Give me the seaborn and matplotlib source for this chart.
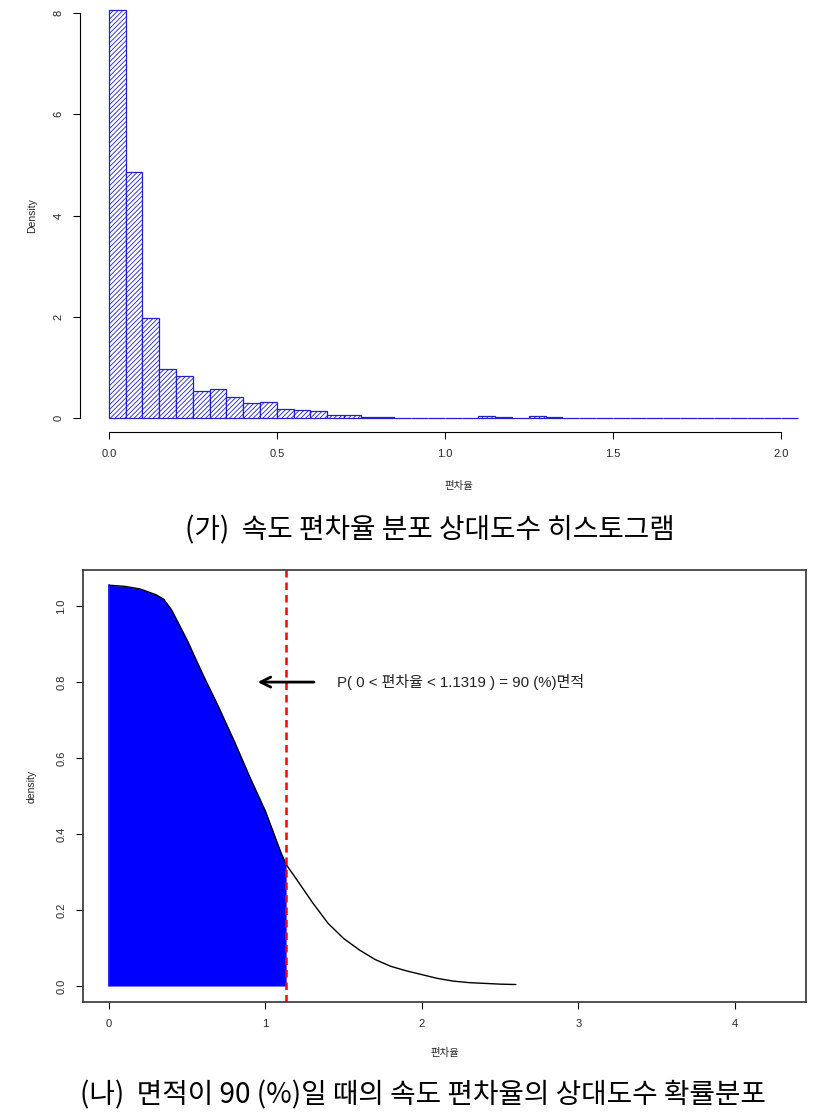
import numpy as np
import pandas as pd
import matplotlib
matplotlib.use("Agg")
import matplotlib.pyplot as plt
import seaborn as sns

# ---------------- data ----------------
# (가) histogram: bin left edges (width 0.05) and densities
bin_width = 0.05
hist_left = [0.00, 0.05, 0.10, 0.15, 0.20, 0.25, 0.30, 0.35, 0.40, 0.45,
             0.50, 0.55, 0.60, 0.65, 0.70, 0.75, 0.80, 0.85, 0.90, 0.95,
             1.00, 1.05, 1.10, 1.15, 1.20, 1.25, 1.30, 1.35, 1.40, 1.45,
             1.50, 1.55, 1.60, 1.65, 1.70, 1.75, 1.80, 1.85, 1.90, 1.95,
             2.00]
hist_density = [8.06, 4.86, 1.98, 0.97, 0.83, 0.53, 0.57, 0.42, 0.30, 0.32,
                0.18, 0.16, 0.14, 0.06, 0.06, 0.012, 0.010, 0.008, 0.008, 0.006,
                0.006, 0.006, 0.040, 0.012, 0.0, 0.040, 0.010, 0.008, 0.006, 0.0,
                0.0, 0.0, 0.006, 0.006, 0.006, 0.0, 0.006, 0.0, 0.006, 0.006,
                0.0]

# (나) density curve
curve_x = [0.0, 0.1, 0.2, 0.3, 0.35, 0.4, 0.5, 0.6, 0.7, 0.8, 0.9, 1.0,
           1.1, 1.1319, 1.2, 1.3, 1.4, 1.5, 1.6, 1.7, 1.8, 1.9, 2.0, 2.1,
           2.2, 2.3, 2.4, 2.5, 2.6]
curve_y = [1.055, 1.052, 1.045, 1.030, 1.018, 0.99, 0.91, 0.82, 0.735, 0.645,
           0.55, 0.46, 0.35, 0.32, 0.28, 0.22, 0.165, 0.125, 0.095, 0.07,
           0.052, 0.04, 0.03, 0.02, 0.013, 0.009, 0.007, 0.005, 0.004]
cutoff = 1.1319
annot_text = "P( 0 < 편차율 < 1.1319 ) = 90 (%)면적"
caption_a = "(가)  속도 편차율 분포 상대도수 히스토그램"
caption_b = "(나)  면적이 90 (%)일 때의 속도 편차율의 상대도수 확률분포"
xlabel = "편차율"

# ---------------- style ----------------
sns.set_theme(style="white")
plt.rcParams['font.family'] = ['Liberation Sans', 'Noto Sans CJK KR', 'DejaVu Sans']
plt.rcParams['hatch.linewidth'] = 0.6
plt.rcParams['axes.unicode_minus'] = False

W, H = 837, 1117
fig = plt.figure(figsize=(W / 100, H / 100), dpi=100)

def fx(px):
    return px / W

def fy(py):
    return 1 - py / H

tick_fs = 8
lab_fs = 7.5
cap_fs = 20

# ---------------- top: histogram ----------------
ax1 = fig.add_axes([fx(80), fy(432), fx(837) - fx(80), fy(0) - fy(432)])
centers = [l + bin_width / 2 for l in hist_left]
edges = hist_left + [hist_left[-1] + bin_width]
df_h = pd.DataFrame({"x": centers, "w": hist_density})
sns.histplot(data=df_h, x="x", weights="w", bins=edges, stat="count",
             ax=ax1, color="white", edgecolor="#1a1ad0", linewidth=0.9,
             alpha=1.0)
for p in ax1.patches:
    p.set_hatch("///////")
    p.set_edgecolor("#2020d0")
ax1.set_xlim(-0.086, 2.167)
ax1.set_ylim(-0.277, 8.26)
for s in ["top", "right"]:
    ax1.spines[s].set_visible(False)
for s in ["left", "bottom"]:
    ax1.spines[s].set_color("black")
    ax1.spines[s].set_linewidth(0.8)
ax1.spines["left"].set_bounds(0, 8)
ax1.spines["bottom"].set_bounds(0, 2)
ax1.set_xticks([0.0, 0.5, 1.0, 1.5, 2.0])
ax1.set_xticklabels(["0.0", "0.5", "1.0", "1.5", "2.0"])
ax1.set_yticks([0, 2, 4, 6, 8])
ax1.set_yticklabels(["0", "2", "4", "6", "8"], rotation=90, va="center")
ax1.tick_params(axis="both", which="both", direction="out", length=5,
                width=0.8, color="black", labelsize=tick_fs, pad=7,
                bottom=True, left=True)
ax1.set_xlabel(xlabel, fontsize=lab_fs, labelpad=16)
ax1.set_ylabel("Density", fontsize=lab_fs, labelpad=12)
ax1.grid(False)

fig.text(0.514, fy(530), caption_a, ha="center", va="center",
         fontsize=cap_fs, color="black",
         family=['Noto Sans CJK KR', 'DejaVu Sans'])

# ---------------- bottom: density ----------------
ax2 = fig.add_axes([fx(83), fy(1002), fx(806) - fx(83), fy(570) - fy(1002)])
cx = np.array(curve_x)
cy = np.array(curve_y)
mask = cx <= cutoff
ax2.fill_between(cx[mask], 0, cy[mask], color="#0000ff", linewidth=0)
sns.lineplot(x=curve_x, y=curve_y, ax=ax2, color="black", linewidth=1.0)
ax2.plot([0, 0], [0, curve_y[0]], color="#0000ff", linewidth=1.2)
ax2.axvline(cutoff, color="#ff0000", linestyle=(0, (3, 2)), linewidth=1.8)
ax2.annotate("", xy=(0.95, 0.80), xytext=(1.31, 0.80),
             arrowprops=dict(arrowstyle="->,head_length=0.6,head_width=0.3",
                             color="black", lw=2, shrinkA=0, shrinkB=0))
ax2.text(1.46, 0.80, annot_text, ha="left", va="center", fontsize=10.8,
         color="#222222")
ax2.set_xlim(-0.166, 4.454)
ax2.set_ylim(-0.042, 1.095)
for s in ax2.spines.values():
    s.set_visible(True)
    s.set_color("#333333")
    s.set_linewidth(1.2)
ax2.set_xticks([0, 1, 2, 3, 4])
ax2.set_xticklabels(["0", "1", "2", "3", "4"])
ax2.set_yticks([0.0, 0.2, 0.4, 0.6, 0.8, 1.0])
ax2.set_yticklabels(["0.0", "0.2", "0.4", "0.6", "0.8", "1.0"], rotation=90,
                    va="center")
ax2.tick_params(axis="both", which="both", direction="out", length=5,
                width=0.8, color="black", labelsize=tick_fs, pad=7,
                bottom=True, left=True)
ax2.set_xlabel(xlabel, fontsize=lab_fs, labelpad=14)
ax2.set_ylabel("density", fontsize=lab_fs, labelpad=14)
ax2.grid(False)

fig.text(0.505, fy(1095), caption_b, ha="center", va="center",
         fontsize=cap_fs, color="black",
         family=['Noto Sans CJK KR', 'DejaVu Sans'])

fig.savefig("out.png", dpi=100)
